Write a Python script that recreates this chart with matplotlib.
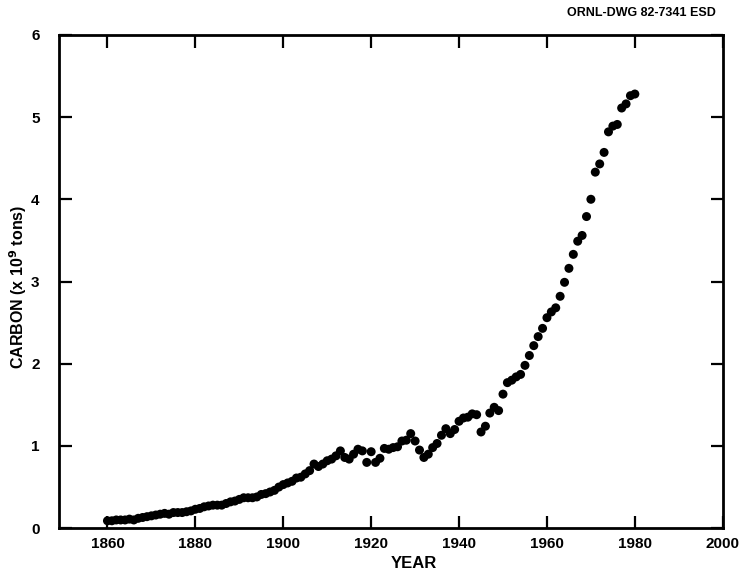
import matplotlib

matplotlib.use("Agg")
import matplotlib.pyplot as plt

# global fossil-fuel carbon release, 10^9 tons per year
years = list(range(1860, 1981))
carbon = [
    0.09, 0.09, 0.10, 0.10, 0.10, 0.11, 0.10, 0.12, 0.13, 0.14,  # 1860s
    0.15, 0.16, 0.17, 0.18, 0.17, 0.19, 0.19, 0.19, 0.20, 0.21,  # 1870s
    0.23, 0.24, 0.26, 0.27, 0.28, 0.28, 0.28, 0.30, 0.32, 0.33,  # 1880s
    0.35, 0.37, 0.37, 0.37, 0.38, 0.41, 0.42, 0.44, 0.46, 0.50,  # 1890s
    0.53, 0.55, 0.57, 0.61, 0.62, 0.66, 0.70, 0.78, 0.75, 0.78,  # 1900s
    0.82, 0.84, 0.88, 0.94, 0.86, 0.84, 0.90, 0.96, 0.94, 0.80,  # 1910s
    0.93, 0.80, 0.85, 0.97, 0.96, 0.98, 0.99, 1.06, 1.07, 1.15,  # 1920s
    1.06, 0.95, 0.86, 0.90, 0.98, 1.03, 1.13, 1.21, 1.15, 1.20,  # 1930s
    1.30, 1.34, 1.35, 1.39, 1.38, 1.17, 1.24, 1.40, 1.47, 1.43,  # 1940s
    1.63, 1.77, 1.80, 1.84, 1.87, 1.98, 2.10, 2.22, 2.33, 2.43,  # 1950s
    2.56, 2.63, 2.68, 2.82, 2.99, 3.16, 3.33, 3.49, 3.56, 3.79,  # 1960s
    4.00, 4.33, 4.43, 4.57, 4.82, 4.89, 4.91, 5.11, 5.16, 5.26,  # 1970s
    5.28,
]

x_ticks = [1860, 1880, 1900, 1920, 1940, 1960, 1980, 2000]
y_ticks = [0, 1, 2, 3, 4, 5, 6]

plt.rcParams["font.family"] = ["Liberation Sans", "DejaVu Sans"]
plt.rcParams["font.weight"] = "bold"

fig = plt.figure(figsize=(7.39, 5.71), dpi=100)
fig.patch.set_facecolor("white")
ax = fig.add_axes([0.080, 0.075, 0.898, 0.864])

ax.scatter(years, carbon, s=42, color="black", edgecolors="none", zorder=3)

ax.set_xlim(1849, 2000)
ax.set_ylim(0, 6)
ax.set_xticks(x_ticks)
ax.set_yticks(y_ticks)
ax.set_xticklabels([str(t) for t in x_ticks], fontsize=11, fontweight="bold")
ax.set_yticklabels([str(t) for t in y_ticks], fontsize=11, fontweight="bold")

for side in ax.spines.values():
    side.set_linewidth(2.0)
ax.tick_params(axis="both", direction="in", length=9, width=1.6,
               top=True, right=True)
ax.tick_params(axis="x", pad=6)
ax.tick_params(axis="y", pad=14)

ax.set_xlabel("YEAR", fontsize=12, fontweight="bold")
ax.xaxis.set_label_coords(0.534, -0.056)
ax.set_ylabel("CARBON (x 10$^{\\mathbf{9}}$ tons)", fontsize=11.5, fontweight="bold")
ax.yaxis.set_label_coords(-0.046, 0.49)

fig.text(0.969, 0.978, "ORNL-DWG 82-7341 ESD", ha="right", va="center",
         fontsize=9, fontweight="bold")

fig.savefig("out.png", dpi=100)
